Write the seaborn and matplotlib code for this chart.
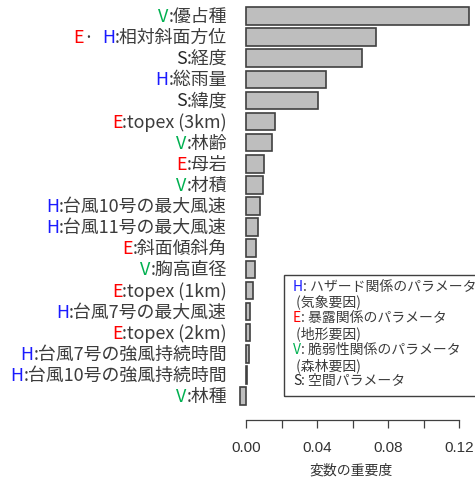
import matplotlib
matplotlib.use('Agg')
import matplotlib.pyplot as plt
from matplotlib.patches import Rectangle
import seaborn as sns
import pandas as pd
from itertools import groupby

# variable importance, top to bottom
prefixes = ['V', 'E·  H', 'S', 'H', 'S', 'E', 'V', 'E', 'V', 'H',
            'H', 'E', 'V', 'E', 'H', 'E', 'H', 'H', 'V']
names = ['優占種', '相対斜面方位', '経度', '総雨量', '緯度', 'topex (3km)', '林齢',
         '母岩', '材積', '台風10号の最大風速', '台風11号の最大風速', '斜面傾斜角',
         '胸高直径', 'topex (1km)', '台風7号の最大風速', 'topex (2km)',
         '台風7号の強風持続時間', '台風10号の強風持続時間', '林種']
importance = [0.1256, 0.0731, 0.0655, 0.0452, 0.0404, 0.0165, 0.0147, 0.0103,
              0.0094, 0.0079, 0.0069, 0.0055, 0.0052, 0.0041, 0.0023, 0.0021,
              0.0017, 0.0007, -0.0034]

xticks = [0, 0.02, 0.04, 0.06, 0.08, 0.10, 0.12]
xtick_labels = ['0.00', '', '0.04', '', '0.08', '', '0.12']
xlabel = '変数の重要度'

legend_lines = [('H', ': ハザード関係のパラメータ'),
                ('', ' (気象要因)'),
                ('E', ': 暴露関係のパラメータ'),
                ('', ' (地形要因)'),
                ('V', ': 脆弱性関係のパラメータ'),
                ('', ' (森林要因)'),
                ('S', ': 空間パラメータ')]

GRAY = '#3c3c3c'
colors = {'V': '#00b050', 'E': '#ff0000', 'H': '#1a1aff', 'S': '#262626'}
CJK = ['Noto Sans CJK JP', 'DejaVu Sans']
LABEL_SIZE = 12.9

W, H = 475, 481
def fx(px):
  return px / W
def fy(py):
  return 1 - py / H

sns.set_style('white')
plt.rcParams['font.family'] = CJK

df = pd.DataFrame({'label': [p + ':' + n for p, n in zip(prefixes, names)],
                   'importance': importance})

fig = plt.figure(figsize=(4.75, 4.81), dpi=100)
ax = fig.add_axes([fx(237.1), fy(409.7), (473.5 - 237.1) / W, (409.7 - 4.3) / H])
sns.barplot(data=df, x='importance', y='label', orient='h', color='#bebebe',
            saturation=1, edgecolor='#404040', linewidth=1.2, width=0.83, ax=ax)
ax.set_xlim(-0.005, 0.128)
ax.set_ylim(len(names) - 0.4, -0.6)

for s in ['left', 'top', 'right']:
  ax.spines[s].set_visible(False)
ax.spines['bottom'].set_position(('outward', 8))
ax.spines['bottom'].set_bounds(0, 0.12)
ax.spines['bottom'].set_color('#404040')
ax.spines['bottom'].set_linewidth(0.9)
ax.set_xticks(xticks)
ax.set_xticklabels(xtick_labels, fontfamily='Liberation Sans', fontsize=11, color='#333333')
ax.tick_params(axis='x', bottom=True, length=5.5, width=0.9, pad=9, color='#404040')
ax.tick_params(axis='y', left=False, labelleft=False)
ax.set_xlabel('')
ax.set_ylabel('')

# multi coloured y labels, built right to left
trans = ax.get_yaxis_transform()
for i, (p, n) in enumerate(zip(prefixes, names)):
  prev = ax.text(-0.0427, i, ':' + n, transform=trans, ha='right', va='center',
                 fontsize=LABEL_SIZE, color=GRAY)
  segs = [(c, ''.join(g)) for c, g in groupby(p, key=lambda ch: colors.get(ch, GRAY))]
  for c, seg in reversed(segs):
    prev = ax.annotate(seg, xy=(0, 0), xycoords=prev, ha='right', va='bottom',
                       fontsize=LABEL_SIZE, color=c)

fig.text(fx(351), fy(471), xlabel, ha='center', va='center', fontsize=10, color='#333333')

# legend box
fig.patches.append(Rectangle((fx(284), fy(397)), fx(490) - fx(284), fy(276) - fy(397),
                             transform=fig.transFigure, fill=False,
                             edgecolor='#404040', linewidth=1.0))
for k, (letter, rest) in enumerate(legend_lines):
  y = fy(287 + k * 15.67)
  if letter:
    t = fig.text(fx(293), y, letter, ha='left', va='center', fontsize=10,
                 color=colors[letter])
    ax.annotate(rest, xy=(1, 0), xycoords=t, ha='left', va='bottom',
                fontsize=10, color=GRAY)
  else:
    fig.text(fx(293), y, rest, ha='left', va='center', fontsize=10, color=GRAY)

fig.savefig('out.png', dpi=100)
